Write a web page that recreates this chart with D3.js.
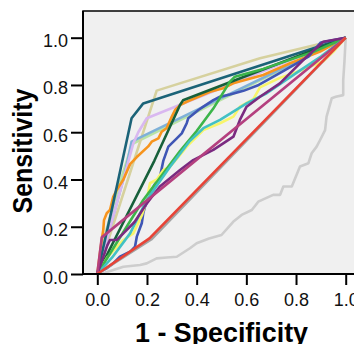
<!DOCTYPE html>
<html>
<head>
<meta charset="utf-8">
<script src="https://cdn.jsdelivr.net/npm/d3@7"></script>
<style>
  html, body { margin: 0; padding: 0; background: #fff; }
  svg { display: block; font-family: "Liberation Sans", Arial, sans-serif; }
</style>
</head>
<body>
<div id="chart"></div>
<script>
// ROC curves, [1 - specificity, sensitivity] pairs
const rocKhaki = [[0,0],[0.239,0.776],[0.655,0.913],[1,1]];
const rocPaleGreen = [[0,0],[0.03,0.16],[0.08,0.35],[0.14,0.55],[1,1]];
const rocLightBlue = [[0,0],[0.11,0.42],[0.138,0.56],[1,1]];
const rocLavender = [[0,0],[0.145,0.553],[0.165,0.60],[0.199,0.659],[1,1]];
const rocOrange = [[0,0],[0.012,0.10],[0.02,0.16],[0.024,0.186],[0.027,0.228],[0.038,0.257],[0.051,0.271],
  [0.064,0.327],[0.078,0.355],[0.105,0.40],[0.132,0.465],[0.159,0.495],[0.205,0.54],[0.219,0.56],[0.246,0.574],
  [0.259,0.602],[0.279,0.617],[0.30,0.666],[0.313,0.694],[0.333,0.715],[0.36,0.729],[0.454,0.771],[0.507,0.786],
  [0.547,0.807],[0.668,0.842],[0.776,0.892],[0.897,0.941],[1,1]];
const rocTeal = [[0,0],[0.06,0.28],[0.138,0.659],[0.185,0.722],[1,1]];
const rocDarkGreen = [[0,0],[0.23,0.48],[0.333,0.715],[0.345,0.735],[1,1]];
const rocBlue = [[0,0],[0.011,0.01],[0.038,0.024],[0.064,0.045],[0.091,0.073],[0.132,0.094],[0.152,0.116],
  [0.159,0.158],[0.179,0.215],[0.185,0.257],[0.192,0.285],[0.212,0.327],[0.219,0.355],[0.232,0.38],[0.252,0.41],
  [0.266,0.48],[0.286,0.539],[0.32,0.574],[0.34,0.595],[0.36,0.638],[0.366,0.659],[0.407,0.694],[0.427,0.708],
  [0.467,0.736],[0.494,0.75],[0.534,0.76],[0.588,0.775],[0.65,0.80],[0.75,0.86],[0.85,0.92],[0.9,0.98],[1,1]];
const rocYellow = [[0,0],[0.04,0.07],[0.105,0.144],[0.145,0.172],[0.18,0.25],[0.199,0.313],[0.212,0.384],
  [0.24,0.40],[0.266,0.44],[0.293,0.454],[0.33,0.50],[0.36,0.539],[0.373,0.553],[0.427,0.609],[0.494,0.638],
  [0.548,0.666],[0.574,0.708],[0.628,0.74],[0.655,0.79],[0.735,0.83],[0.816,0.86],[0.91,0.90],[0.95,0.94],[1,1]];
const rocGreen = [[0,0],[0.185,0.313],[0.333,0.52],[0.40,0.605],[0.467,0.70],[0.534,0.814],[0.554,0.835],
  [0.668,0.868],[0.87,0.94],[1,1]];
const rocCyan = [[0,0],[0.06,0.07],[0.132,0.172],[0.199,0.313],[0.293,0.454],[0.37,0.56],[0.427,0.617],
  [0.494,0.652],[0.601,0.722],[0.682,0.765],[0.80,0.85],[0.9,0.92],[1,1]];
const rocPurple = [[0,0],[0.04,0.12],[0.051,0.144],[0.078,0.144],[0.105,0.172],[0.15,0.22],[0.2,0.3],
  [0.252,0.37],[0.333,0.44],[0.386,0.482],[0.467,0.525],[0.507,0.553],[0.548,0.581],[0.574,0.652],[0.601,0.708],
  [0.655,0.75],[0.735,0.807],[0.843,0.92],[0.91,0.983],[1,1]];
const rocMagenta = [[0,0],[0.018,0.155],[1,1]];
const rocGray = [[0,0],[0.217,0.146],[1,1]];
const rocRed = [[0,0],[0.21,0.151],[1,1]];
const rocLightGray = [[0,0],[0.03,0.005],[0.064,0.017],[0.105,0.031],[0.172,0.038],[0.199,0.045],[0.239,0.066],
  [0.28,0.07],[0.32,0.073],[0.373,0.109],[0.40,0.13],[0.45,0.15],[0.50,0.165],[0.547,0.221],[0.581,0.250],
  [0.622,0.271],[0.648,0.306],[0.708,0.335],[0.736,0.335],[0.749,0.370],[0.783,0.370],[0.816,0.455],[0.850,0.469],
  [0.863,0.511],[0.883,0.539],[0.897,0.567],[0.917,0.609],[0.923,0.666],[0.944,0.744],[0.96,0.75],[0.99,0.757],
  [0.99,0.82],[0.995,0.9],[1,1]];

// drawing order, back to front
const curves = [rocLightGray, rocPaleGreen, rocKhaki, rocLightBlue, rocLavender, rocOrange, rocTeal, rocDarkGreen,
  rocBlue, rocYellow, rocGreen, rocCyan, rocPurple, rocMagenta, rocGray, rocRed];
const curveColors = ['#cdcdcd', '#b8e3a5', '#d6d19e', '#7eb0d8', '#d9b8f0', '#f7941d', '#1b6378', '#17603a',
  '#3f56b5', '#f8f56a', '#3cb54a', '#42c1c4', '#7a2a80', '#b4407f', '#a3a3a3', '#e84336'];

const axisTicks = [0, 0.2, 0.4, 0.6, 0.8, 1.0];

const width = 354, height = 344;
const frame = { left: 83, top: 11, bottom: 274 };

const svg = d3.select('#chart').append('svg')
  .attr('width', width)
  .attr('height', height);

const x = d3.scaleLinear().domain([0, 1]).range([97.3, 345.7]);
const y = d3.scaleLinear().domain([0, 1]).range([274, 37.7]);

// ---- Plot background
svg.append('rect')
  .attr('x', frame.left)
  .attr('y', frame.top)
  .attr('width', 300)
  .attr('height', frame.bottom - frame.top)
  .attr('fill', '#f0f0f0')
  .attr('stroke', '#000')
  .attr('stroke-width', 1.5);

// ---- Curves
const line = d3.line().x(d => x(d[0])).y(d => y(d[1]));
svg.append('g')
  .selectAll('path')
  .data(curves)
  .join('path')
  .attr('d', line)
  .attr('fill', 'none')
  .attr('stroke', (_d, i) => curveColors[i])
  .attr('stroke-width', 2.6)
  .attr('stroke-linejoin', 'round');

// ---- Axes
const yAxis = svg.append('g')
  .attr('transform', `translate(${frame.left},0)`)
  .call(d3.axisLeft(y).tickValues(axisTicks).tickFormat(d3.format('.1f')).tickSize(12).tickPadding(3));
const xAxis = svg.append('g')
  .attr('transform', `translate(0,${frame.bottom})`)
  .call(d3.axisBottom(x).tickValues(axisTicks).tickFormat(d3.format('.1f')).tickSize(11).tickPadding(8));

[yAxis, xAxis].forEach(g => {
  g.select('.domain').remove();
  g.selectAll('line').attr('stroke', '#000').attr('stroke-width', 2);
  g.selectAll('text')
    .attr('fill', '#111')
    .style('font-size', '18px')
    .style('font-family', '"Liberation Sans", Arial, sans-serif');
});
yAxis.selectAll('text').attr('dy', '0.5em');

// axis lines on the frame edges
svg.append('line')
  .attr('x1', frame.left).attr('x2', frame.left)
  .attr('y1', frame.top).attr('y2', frame.bottom + 1)
  .attr('stroke', '#000').attr('stroke-width', 2);
svg.append('line')
  .attr('x1', frame.left).attr('x2', width)
  .attr('y1', frame.bottom).attr('y2', frame.bottom)
  .attr('stroke', '#000').attr('stroke-width', 2);

// ---- Titles
svg.append('text')
  .attr('x', 221.5)
  .attr('y', 342)
  .attr('text-anchor', 'middle')
  .attr('textLength', 173)
  .attr('lengthAdjust', 'spacingAndGlyphs')
  .style('font-size', '27px')
  .style('font-weight', 'bold')
  .text('1 - Specificity');

svg.append('text')
  .attr('transform', 'translate(32,151) rotate(-90)')
  .attr('text-anchor', 'middle')
  .attr('textLength', 125)
  .attr('lengthAdjust', 'spacingAndGlyphs')
  .style('font-size', '27px')
  .style('font-weight', 'bold')
  .text('Sensitivity');
</script>
</body>
</html>
